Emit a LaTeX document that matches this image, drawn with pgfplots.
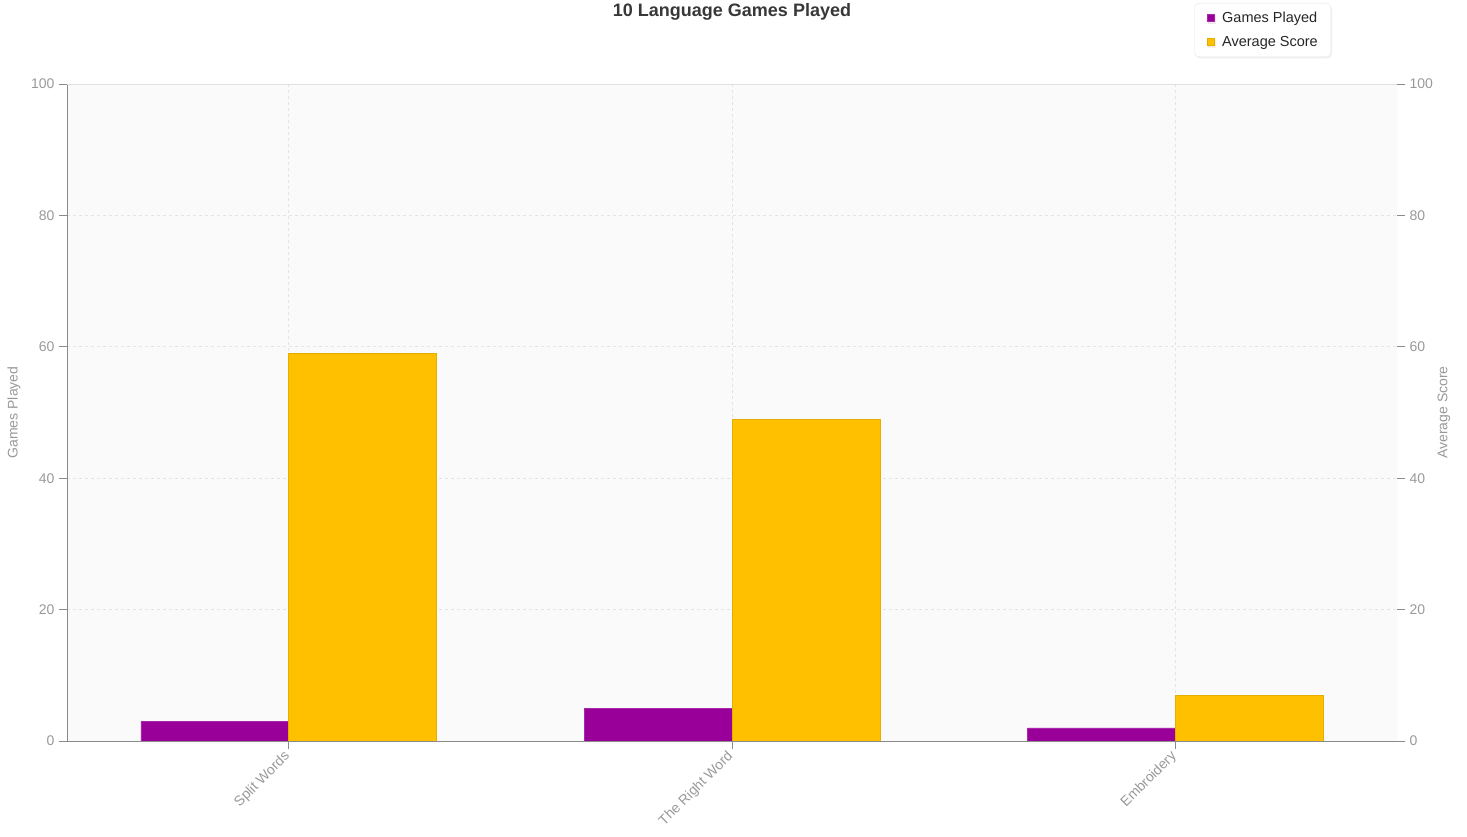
\documentclass[border=0pt]{standalone}
\usepackage{fontspec}
\setmainfont{Liberation Sans}
\usepackage{pgfplots}
\pgfplotsset{compat=1.18}
\usetikzlibrary{shadows}
\definecolor{gp}{HTML}{990099}
\definecolor{as}{HTML}{FFC000}
\definecolor{tk}{HTML}{999999}
\definecolor{gr}{HTML}{E4E4E4}
\definecolor{ax}{HTML}{8A8A8A}
\begin{document}
\begin{tikzpicture}[x=1pt,y=1pt]
\path[use as bounding box] (0,0) rectangle (1467,837);
\node[font=\fontsize{18}{20}\selectfont\bfseries, text=black!78, anchor=base] at (732,820) {10 Language Games Played};
\begin{axis}[
  at={(67pt,96pt)}, anchor=south west,
  scale only axis, width=1330pt, height=657pt,
  xmin=-0.5, xmax=2.5, ymin=0, ymax=100,
  xtick={0,1,2}, xticklabels={Split Words, The Right Word, Embroidery},
  ytick={0,20,...,100},
  axis x line*=bottom, axis y line*=left,
  x axis line style={-, draw=ax}, y axis line style={-, draw=ax},
  axis background/.style={fill=black!2},
  grid=major, major grid style={gr, dashed, line width=0.8pt},
  tick align=outside, major tick length=8pt,
  tick style={ax, line width=0.8pt},
  /pgf/number format/assume math mode=true,
  tick label style={text=tk, font=\fontsize{14}{16}\selectfont},
  xticklabel style={rotate=45, anchor=east, xshift=-1pt, yshift=-3pt},
  yticklabel style={xshift=-1pt},
  ylabel={Games Played},
  ylabel style={at={(axis description cs:-0.0398,0.5)}, anchor=center, text=tk, font=\fontsize{14}{16}\selectfont},
  legend style={at={(axis description cs:0.9504,1.1233)}, anchor=north east, draw=black!10, rounded corners=4pt, fill=white,
    font=\fontsize{14.5}{16}\selectfont, text=black!85, row sep=10pt, inner xsep=12pt, inner ysep=8pt,
    nodes={inner sep=1pt},
    drop shadow={opacity=0.12, shadow xshift=1pt, shadow yshift=-1.5pt}},
  legend cell align=left,
  legend image code/.code={\fill[#1, sharp corners] (0pt,-3.5pt) rectangle (7pt,3.5pt); \path (0pt,0pt) (14pt,0pt);},
]
\addplot[ybar, fill=gp, draw=gp!85!white, bar width=147.8pt, bar shift=-73.9pt] coordinates {(0,3) (1,5) (2,2)};
\addlegendentry{Games Played}
\addplot[ybar, fill=as, draw=as!90!black, bar width=147.8pt, bar shift=73.9pt] coordinates {(0,59) (1,49) (2,7)};
\addlegendentry{Average Score}
\draw[black!12, line width=0.8pt] (rel axis cs:0,1) -- (rel axis cs:1,1) -- (rel axis cs:1,0);
\end{axis}
\begin{axis}[
  at={(67pt,96pt)}, anchor=south west,
  scale only axis, width=1330pt, height=657pt,
  xmin=-0.5, xmax=2.5, ymin=0, ymax=100,
  axis x line=none, axis y line*=right,
  y axis line style={-, draw=none},
  ytick={0,20,...,100},
  tick align=outside, major tick length=8pt,
  tick style={ax, line width=0.8pt},
  /pgf/number format/assume math mode=true,
  tick label style={text=tk, font=\fontsize{14}{16}\selectfont},
  yticklabel style={xshift=1pt},
  ylabel={Average Score},
  ylabel style={at={(axis description cs:1.0353,0.5)}, anchor=center, text=tk, font=\fontsize{14}{16}\selectfont},
]
\end{axis}
\end{tikzpicture}
\end{document}
